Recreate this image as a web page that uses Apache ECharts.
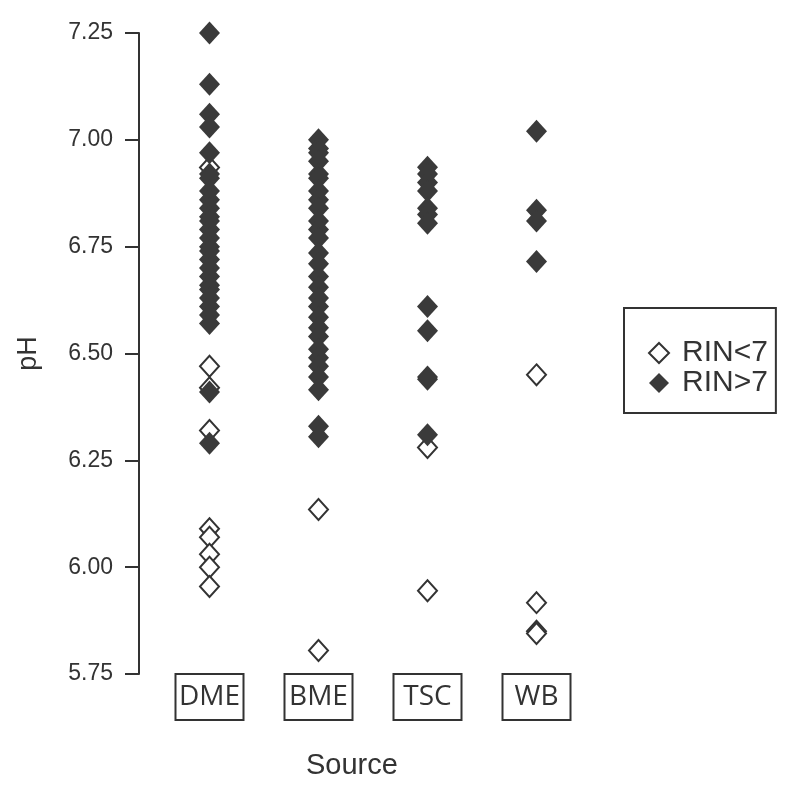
<!DOCTYPE html>
<html>
<head>
<meta charset="utf-8">
<script src="https://cdn.jsdelivr.net/npm/echarts@6/dist/echarts.min.js"></script>
<style>
html,body{margin:0;padding:0;background:#fff;}
#chart{width:796px;height:788px;}
</style>
</head>
<body>
<div id="chart"></div>
<script>
// Categories and tick settings
const categories = ['DME', 'BME', 'TSC', 'WB'];
const yTicks = [5.75, 6.00, 6.25, 6.50, 6.75, 7.00, 7.25];

// RIN<7 (open diamonds)
const dmeLow = [6.935, 6.47, 6.42, 6.32, 6.09, 6.07, 6.03, 6.00, 5.955];
const bmeLow = [6.135, 5.805];
const tscLow = [6.28, 5.945];
const wbLow  = [6.45, 5.917, 5.85, 5.845];

// RIN>7 (filled diamonds)
const dmeHigh = [7.25, 7.13, 7.06, 7.03, 6.97, 6.92, 6.91, 6.88, 6.86, 6.84, 6.82, 6.81, 6.79, 6.77,
                 6.75, 6.74, 6.72, 6.70, 6.68, 6.66, 6.65, 6.63, 6.61, 6.59, 6.57, 6.41, 6.29];
const bmeHigh = [7.00, 6.98, 6.97, 6.95, 6.92, 6.91, 6.88, 6.86, 6.84, 6.81, 6.79, 6.77, 6.735,
                 6.71, 6.68, 6.655, 6.63, 6.61, 6.585, 6.56, 6.54, 6.51, 6.49, 6.47, 6.445, 6.415,
                 6.33, 6.305];
const tscHigh = [6.936, 6.92, 6.90, 6.88, 6.84, 6.825, 6.805, 6.61, 6.553, 6.445, 6.44, 6.31];
const wbHigh  = [7.02, 6.835, 6.81, 6.715];

function pairs(cat, vals) { return vals.map(v => [cat, v]); }
const lowData = [].concat(pairs('DME', dmeLow), pairs('BME', bmeLow), pairs('TSC', tscLow), pairs('WB', wbLow));
const highData = [].concat(pairs('DME', dmeHigh), pairs('BME', bmeHigh), pairs('TSC', tscHigh), pairs('WB', wbHigh));

const ink = '#333333';
const chart = echarts.init(document.getElementById('chart'), null, {renderer: 'canvas'});
chart.setOption({
  animation: false,
  backgroundColor: '#ffffff',
  grid: {left: 155, width: 436, top: 33, bottom: 114, containLabel: false, outerBoundsMode: 'none'},
  xAxis: {
    type: 'category',
    data: categories,
    boundaryGap: true,
    axisLine: {show: false},
    axisTick: {show: false},
    splitLine: {show: false},
    axisLabel: {
      margin: 1,
      fontFamily: 'Open Sans',
      fontSize: 28,
      color: ink,
      width: 66,
      align: 'center',
      lineHeight: 34,
      padding: [5, 0, 5, 0],
      borderColor: ink,
      borderWidth: 2,
      backgroundColor: '#ffffff'
    }
  },
  yAxis: {
    type: 'value',
    min: 5.75,
    max: 7.25,
    interval: 0.25,
    offset: 16,
    name: 'pH',
    nameLocation: 'middle',
    nameGap: 97,
    nameTextStyle: {fontFamily: 'Liberation Sans', fontSize: 27, color: ink},
    axisLine: {show: true, lineStyle: {color: ink, width: 2}},
    axisTick: {show: true, length: 14, lineStyle: {color: ink, width: 2}},
    splitLine: {show: false},
    axisLabel: {
      margin: 26,
      fontFamily: 'Liberation Sans',
      fontSize: 23,
      color: ink,
      formatter: v => yTicks.includes(+v.toFixed(2)) ? v.toFixed(2) : ''
    }
  },
  legend: {
    orient: 'vertical',
    left: 624,
    top: 308,
    padding: [30, 8, 15, 24],
    itemGap: 0,
    itemWidth: 20,
    itemHeight: 20,
    borderColor: ink,
    borderWidth: 2,
    textStyle: {fontFamily: 'Liberation Sans', fontSize: 30, color: ink, lineHeight: 28, padding: [0, 0, 0, 8]},
    data: ['RIN<7', 'RIN>7']
  },
  graphic: [{
    type: 'text',
    left: 352 - 46,
    top: 766 - 15,
    style: {text: 'Source', font: '29px "Liberation Sans"', fill: ink}
  }],
  series: [
    {
      name: 'RIN<7',
      type: 'scatter',
      symbol: 'diamond',
      symbolSize: [19, 21],
      itemStyle: {color: '#ffffff', borderColor: ink, borderWidth: 2, opacity: 1},
      data: lowData,
      z: 2
    },
    {
      name: 'RIN>7',
      type: 'scatter',
      symbol: 'diamond',
      symbolSize: [21, 23],
      itemStyle: {color: '#3a3a3a', borderColor: '#3a3a3a', borderWidth: 0, opacity: 1},
      data: highData,
      z: 3
    }
  ]
});
</script>
</body>
</html>
